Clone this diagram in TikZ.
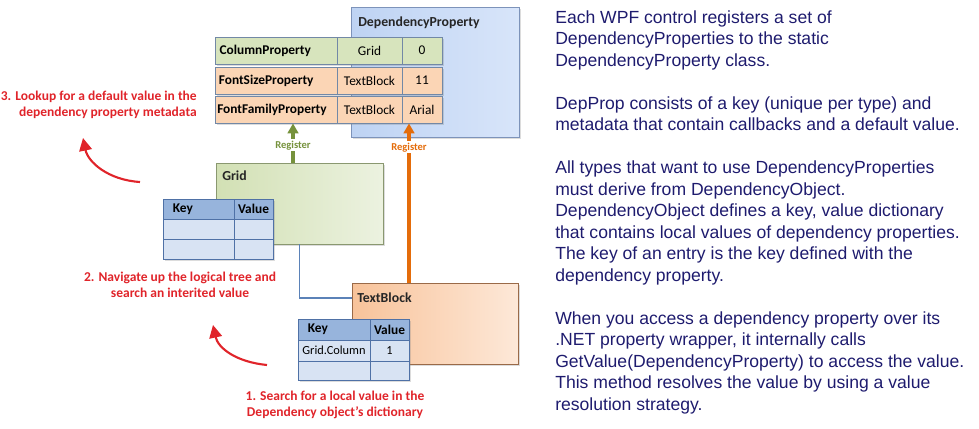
\documentclass[tikz,border=0pt]{standalone}
\usepackage{fontspec}
\setmainfont{Liberation Sans}
\newfontfamily\carlito{Carlito}
\usetikzlibrary{fit,shadows,arrows.meta}

\definecolor{dpblue}{HTML}{BED3F3}
\definecolor{dpblueL}{HTML}{D8E5FA}
\definecolor{dpedge}{HTML}{7D93BA}
\definecolor{gridgreen}{HTML}{D2E0B4}
\definecolor{gridgreenL}{HTML}{ECF2E0}
\definecolor{gridedge}{HTML}{8A9870}
\definecolor{tbpeach}{HTML}{F8C39A}
\definecolor{tbpeachL}{HTML}{FDE8D8}
\definecolor{tbedge}{HTML}{9A6A48}
\definecolor{rowgreen}{HTML}{D7E4BD}
\definecolor{rowpeach}{HTML}{FBD5B5}
\definecolor{celledge}{HTML}{7288A6}
\definecolor{keyheadfill}{HTML}{97B4DC}
\definecolor{keyrowfill}{HTML}{D8E3F3}
\definecolor{keyedge}{HTML}{4F71A6}
\definecolor{reggreen}{HTML}{76923C}
\definecolor{regorange}{HTML}{E46C0A}
\definecolor{stepred}{HTML}{E0242A}
\definecolor{linkblue}{HTML}{5B82B8}
\definecolor{notenavy}{HTML}{1E1B6E}

\tikzset{
  boxshadow/.style={drop shadow={shadow xshift=1.3pt, shadow yshift=-1.3pt, opacity=0.28}},
  classbox/.style={draw=#1, line width=0.7pt, inner sep=0pt, boxshadow},
  classtitle/.style={anchor=west, inner sep=0pt, text=black!85,
    font=\carlito\bfseries\fontsize{9.8}{12}\selectfont},
  cellbox/.style={draw=celledge, line width=0.6pt, inner sep=0pt, fill=#1, boxshadow},
  celltext/.style={inner sep=0pt, font=\carlito\fontsize{9.5}{11}\selectfont},
  propname/.style={anchor=west, inner sep=0pt, font=\carlito\bfseries\fontsize{9.5}{11}\selectfont},
  keyhead/.style={draw=keyedge, line width=0.6pt, inner sep=0pt, fill=keyheadfill, boxshadow},
  keycell/.style={draw=keyedge, line width=0.6pt, inner sep=0pt, fill=keyrowfill, boxshadow},
  keytext/.style={inner sep=0pt, font=\carlito\bfseries\fontsize{9.5}{11}\selectfont},
  valtext/.style={inner sep=0pt, font=\carlito\fontsize{8.8}{10}\selectfont},
  regarrow/.style={draw=#1, line width=2.2pt, -{Triangle[length=7pt,width=7.5pt]}},
  reglabel/.style={fill=white, inner sep=1pt, font=\carlito\bfseries\fontsize{7.5}{9}\selectfont},
  linkline/.style={draw=linkblue, line width=1.1pt},
  steparrow/.style={draw=stepred, line width=1.5pt, -{Triangle[length=9pt,width=9pt]}},
  steplabel/.style={text=stepred, inner sep=0pt, font=\carlito\bfseries\fontsize{9.6}{11.3}\selectfont},
  notes/.style={text=notenavy, align=left, inner sep=0pt, font=\fontsize{12.5}{15.3}\selectfont}
}

\begin{document}
\begin{tikzpicture}[x=0.025cm,y=-0.025cm]
\useasboundingbox (0,0) rectangle (979,428);

% DependencyProperty class
\node[classbox=dpedge, left color=dpblue, right color=dpblueL, fit={(351,7) (519,137)}] (dp) {};
\node[classtitle] (dptitle) at (358,23) {DependencyProperty};

% Grid element
\node[classbox=gridedge, left color=gridgreen, right color=gridgreenL, fit={(216,163) (383,244)}] (grid) {};
\node[classtitle] (gridtitle) at (222,176) {Grid};

% TextBlock element
\node[classbox=tbedge, left color=tbpeach, right color=tbpeachL, fit={(352,283) (518,364)}] (tb) {};
\node[classtitle] (tbtitle) at (357,298) {TextBlock};

% Registered properties
\node[cellbox=rowgreen, fit={(215,37) (337,64)}] (colA) {};
\node[cellbox=rowgreen, fit={(337,37) (402,64)}] (colB) {};
\node[cellbox=rowgreen, fit={(402,37) (442,64)}] (colC) {};
\node[propname] at ([xshift=1.2mm]colA.west) {ColumnProperty};
\node[celltext] at (colB) {Grid};
\node[celltext] at (colC) {0};

\node[cellbox=rowpeach, fit={(215,67) (337,94)}] (sizeA) {};
\node[cellbox=rowpeach, fit={(337,67) (402,94)}] (sizeB) {};
\node[cellbox=rowpeach, fit={(402,67) (442,94)}] (sizeC) {};
\node[propname] at ([xshift=1mm]sizeA.west) {FontSizeProperty};
\node[celltext] at (sizeB) {TextBlock};
\node[celltext] at (sizeC) {11};

\node[cellbox=rowpeach, fit={(215,96) (337,123)}] (famA) {};
\node[cellbox=rowpeach, fit={(337,96) (402,123)}] (famB) {};
\node[cellbox=rowpeach, fit={(402,96) (442,123)}] (famC) {};
\node[propname] at ([xshift=0.6mm]famA.west) {FontFamilyProperty};
\node[celltext] at (famB) {TextBlock};
\node[celltext] at (famC) {Arial};

% Local values of Grid
\node[keyhead, fit={(163,199) (234,219)}] (gk) {};
\node[keyhead, fit={(234,199) (273,219)}] (gv) {};
\node[keytext, anchor=west] at ([xshift=2.5mm]gk.west) {Key};
\node[keytext] at (gv) {Value};
\node[keycell, fit={(163,219) (234,239)}] (gk1) {};
\node[keycell, fit={(234,219) (273,239)}] (gv1) {};
\node[keycell, fit={(163,239) (234,259)}] (gk2) {};
\node[keycell, fit={(234,239) (273,259)}] (gv2) {};

% Local values of TextBlock
\node[keyhead, fit={(298,319) (370,340)}] (tk) {};
\node[keyhead, fit={(370,319) (409,340)}] (tv) {};
\node[keytext, anchor=west] at ([xshift=2.5mm]tk.west) {Key};
\node[keytext] at (tv) {Value};
\node[keycell, fit={(298,340) (370,361)}] (tk1) {};
\node[keycell, fit={(370,340) (409,361)}] (tv1) {};
\node[valtext] at (tk1) {Grid.Column};
\node[valtext] at (tv1) {1};
\node[keycell, fit={(298,361) (370,380)}] (tk2) {};
\node[keycell, fit={(370,361) (409,380)}] (tv2) {};

% Register arrows
\coordinate (greenx) at (293,0);
\coordinate (orangex) at (409,0);
\draw[regarrow=reggreen] (grid.north -| greenx) -- node[reglabel, text=reggreen, pos=0.44] {Register} (famA.south -| greenx);
\draw[regarrow=regorange] (tb.north -| orangex) -- node[reglabel, text=regorange, pos=0.85] {Register} (famC.south -| orangex);

% Logical tree
\draw[linkline] (grid.south) |- (tb.west |- tbtitle);

% Resolution steps
\node[steplabel, anchor=east, align=right] (step3) at (197,105) {3. Lookup for a default value in the\\dependency property metadata};
\node[steplabel, align=center] (step2) at (180,285) {2. Navigate up the logical tree and\\search an interited value};
\node[steplabel, align=center] (step1) at (335,405) {1. Search for a local value in the\\Dependency object’s dictionary};
\coordinate (s3tail) at (140,182);
\coordinate (s3tip) at (83,138);
\coordinate (s2tail) at (267,365);
\coordinate (s2tip) at (213,325);
\draw[steparrow] (s3tail) .. controls (108,180) and (88,162) .. (s3tip);
\draw[steparrow] (s2tail) .. controls (236,362) and (218,348) .. (s2tip);

% Notes
\node[notes, anchor=north west] (notes) at (555,10) {Each WPF control registers a set of\\
DependencyProperties to the static\\
DependencyProperty class.\\[15.3pt]
DepProp consists of a key (unique per type) and\\
metadata that contain callbacks and a default value.\\[15.3pt]
All types that want to use DependencyProperties\\
must derive from DependencyObject.\\
DependencyObject defines a key, value dictionary\\
that contains local values of dependency properties.\\
The key of an entry is the key defined with the\\
dependency property.\\[15.3pt]
When you access a dependency property over its\\
.NET property wrapper, it internally calls\\
GetValue(DependencyProperty) to access the value.\\
This method resolves the value by using a value\\
resolution strategy.};

\end{tikzpicture}
\end{document}
